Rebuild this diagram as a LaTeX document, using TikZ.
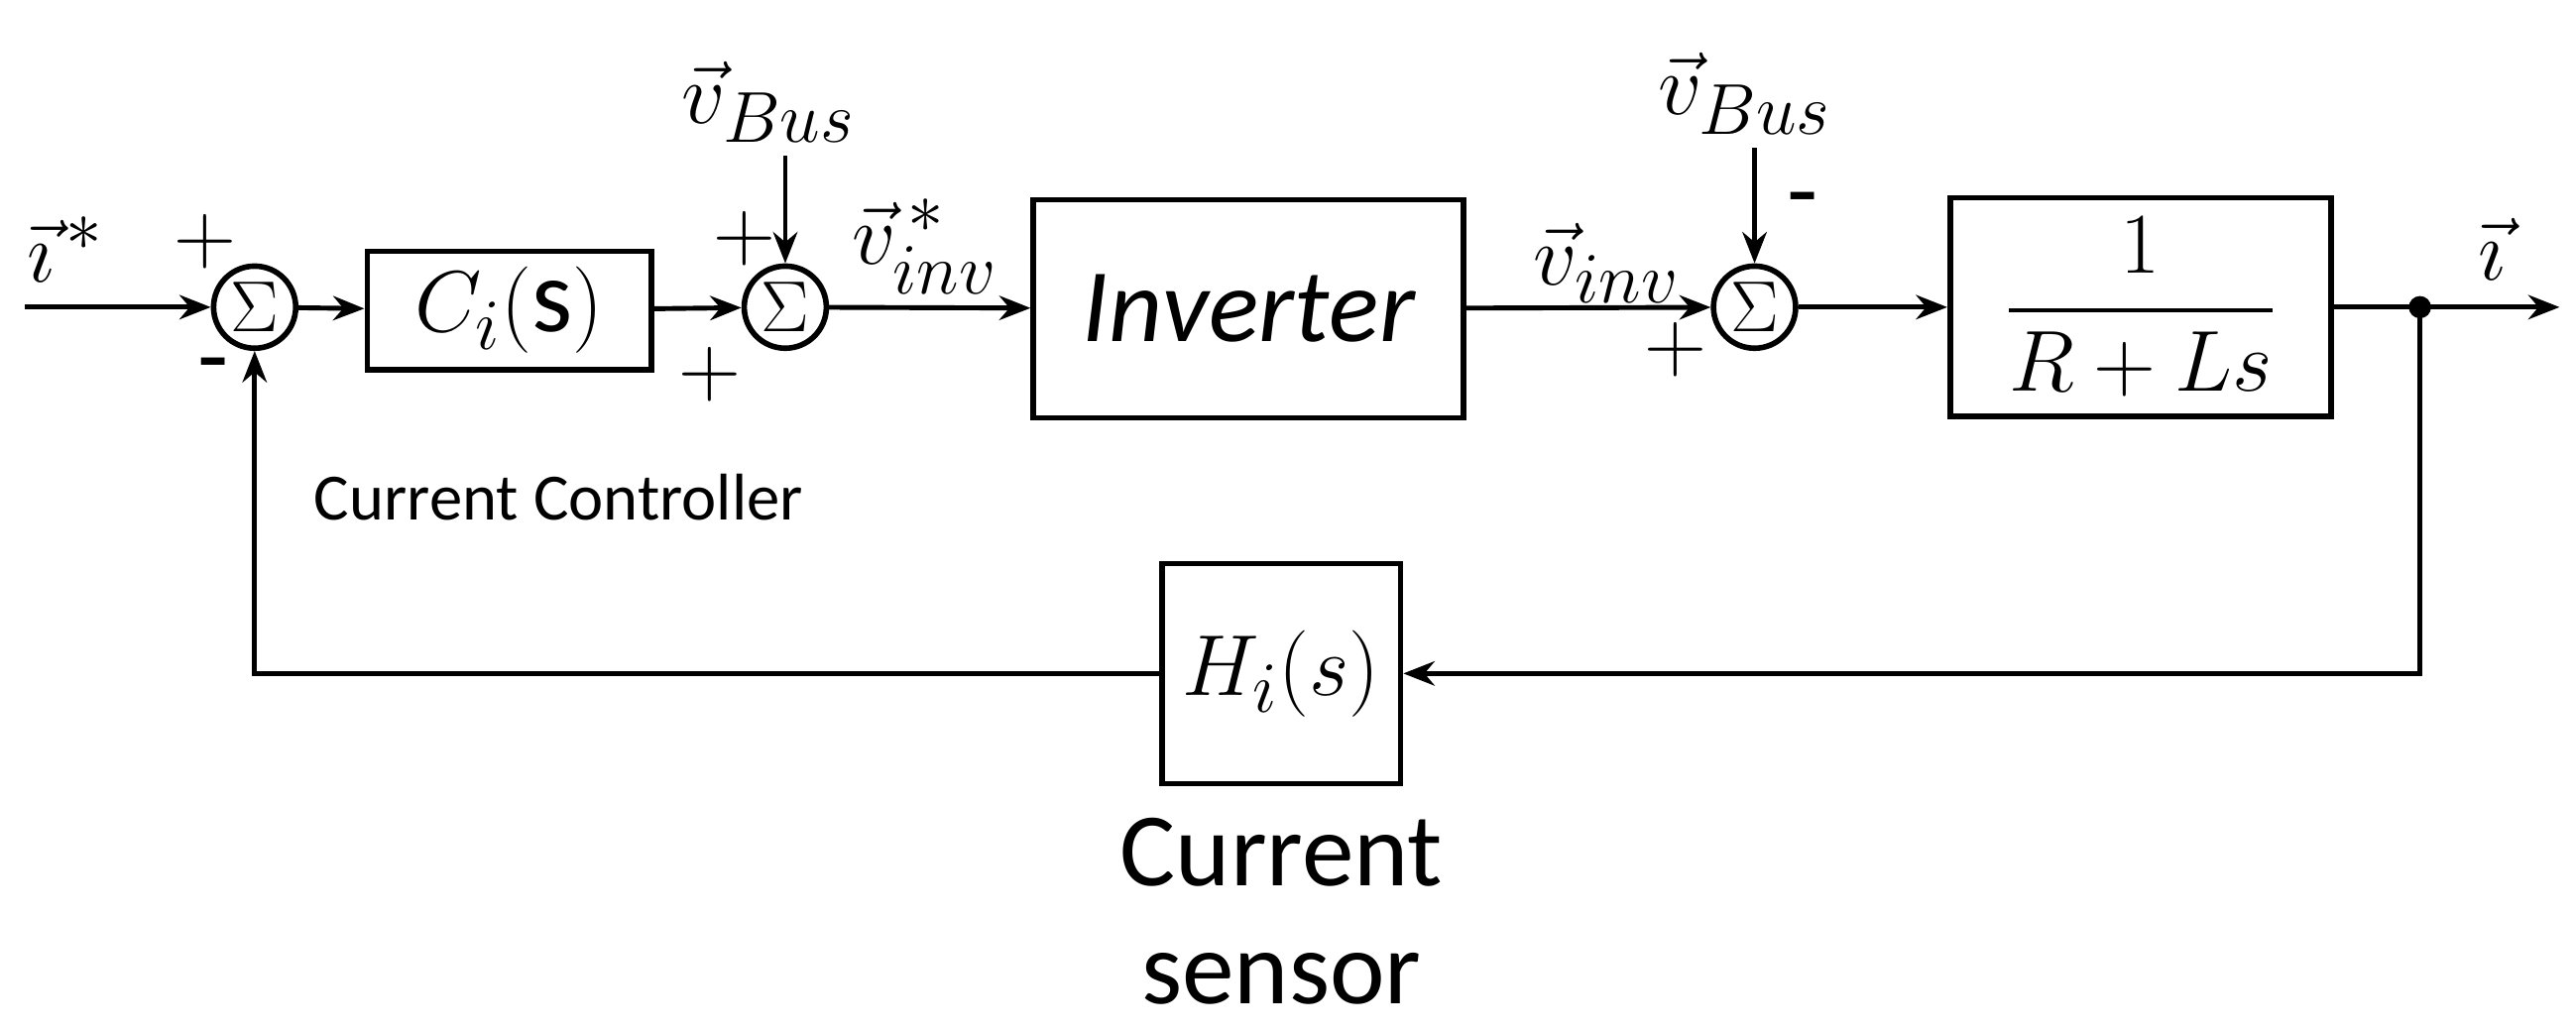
\documentclass[tikz,border=0pt]{standalone}
\usepackage{amsmath}
\usepackage{fontspec}
\setmainfont{Carlito}
\usetikzlibrary{arrows.meta}
\begin{document}
\begin{tikzpicture}[x=0.0166cm,y=-0.0166cm,
  blk/.style={draw,line width=1.6pt,inner sep=0pt},
  sum/.style={draw,circle,line width=1.6pt,minimum size=50*0.0166cm,inner sep=0pt,font=\fontsize{22}{24}\selectfont},
  arr/.style={line width=1.4pt,-{Stealth[length=9pt,width=7pt]}},
  lbl/.style={font=\fontsize{29}{32}\selectfont},
  big/.style={font=\fontsize{30}{34}\selectfont}]
\useasboundingbox (0,0) rectangle (1568,628);
\node[sum] (s1) at (155,187) {$\Sigma$};
\node[blk,minimum width=173*0.0166cm,minimum height=72*0.0166cm,big] (c) at (310,189) {$C_i(\mathrm{s})$};
\node[sum] (s2) at (478,187) {$\Sigma$};
\node[blk,minimum width=262*0.0166cm,minimum height=133*0.0166cm,big] (inv) at (760,188) {$\mathit{Inverter}$};
\node[sum] (s3) at (1068,187) {$\Sigma$};
\node[blk,minimum width=232*0.0166cm,minimum height=133*0.0166cm,big] (tf) at (1303,187) {$\dfrac{1}{R+Ls}$};
\node[blk,minimum width=145*0.0166cm,minimum height=134*0.0166cm,big] (h) at (780,410) {$H_i(s)$};
\coordinate (in) at (15,187);
\coordinate (out) at (1558,187);
\coordinate (br) at (1473,187);
\coordinate (b1) at (478,95);
\coordinate (b2) at (1068,90);
\coordinate (fr) at (1473,410);
\coordinate (fl) at (155,410);
\fill (br) circle (3.2pt);
\draw[arr] (in) -- (s1);
\draw[arr] (s1) -- (c);
\draw[arr] (c) -- (s2);
\draw[arr] (s2) -- (inv);
\draw[arr] (inv) -- (s3);
\draw[arr] (s3) -- (tf);
\draw[arr] (tf.east) -- (out);
\draw[arr] (b1) -- (s2);
\draw[arr] (b2) -- (s3);
\draw[arr] (br) -- (fr) -- (h);
\draw[arr] (h) -- (fl) -- (s1);
\node[lbl] (t1) at (40,152) {$\vec{\imath}^{\,*}$};
\node[lbl] (p1) at (125,147) {$+$};
\node[lbl] (m1) at (130,228) {-};
\node[lbl] (p2) at (453,145) {$+$};
\node[lbl] (p3) at (432,228) {$+$};
\node[lbl] (vb1) at (468,62) {$\vec{v}_{Bus}$};
\node[lbl] (vi1) at (563,150) {$\vec{v}^{\,*}_{inv}$};
\node[lbl] (vi2) at (978,160) {$\vec{v}_{inv}$};
\node[lbl] (p4) at (1020,213) {$+$};
\node[lbl] (m2) at (1097,127) {-};
\node[lbl] (vb2) at (1062,57) {$\vec{v}_{Bus}$};
\node[lbl] (t2) at (1517,152) {$\vec{\imath}$};
\node[font=\fontsize{19}{22}\selectfont] (cc) at (340,303) {Current Controller};
\node[big,align=center] (cs) at (780,555) {Current\\sensor};
\end{tikzpicture}
\end{document}
